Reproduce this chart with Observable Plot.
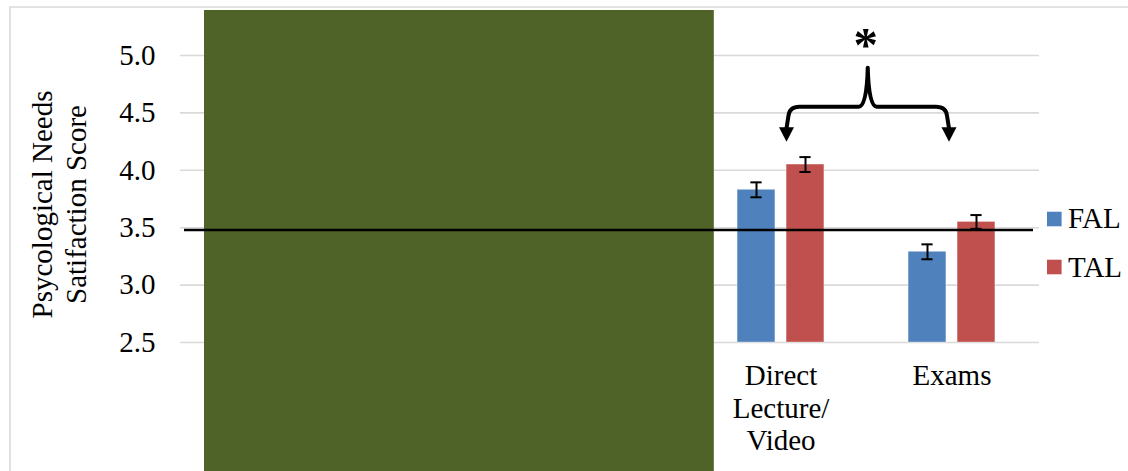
<!DOCTYPE html>
<html>
<head>
<meta charset="utf-8">
<script src="https://cdn.jsdelivr.net/npm/d3@7"></script>
<script src="https://cdn.jsdelivr.net/npm/@observablehq/plot@0.6"></script>
<style>
  body { margin: 0; background: #fff; }
</style>
</head>
<body>
<div id="chart"></div>
<script>
// Category slots along x: the first three lie under the masking panel
const coveredSlots = ["slot-1", "slot-2", "slot-3"];
const categories = ["Direct Lecture/Video", "Exams"];
const categoryLabels = ["Direct\nLecture/\nVideo", "Exams"];
const series = ["FAL", "TAL"];
const seriesColors = ["#4F81BD", "#C0504D"];

// Mean scores and standard errors per category
const falMeans = [3.83, 3.29];
const talMeans = [4.05, 3.55];
const falErrors = [0.065, 0.065];
const talErrors = [0.065, 0.06];

const yTicks = [2.5, 3.0, 3.5, 4.0, 4.5, 5.0];
const yLabelLines = ["Psycological Needs", "Satifaction Score"];
const referenceLevel = 3.475;
const significanceMark = "*";
// Bracket levels (score units) above the two compared groups
const bracketLevels = {peak: 4.89, bar: 4.55, arrowBase: 4.37, arrowTip: 4.245, mark: 5.13};

// Long table built from the arrays above
const rows = categories.flatMap((c, i) => [
  {category: c, series: series[0], mean: falMeans[i], err: falErrors[i]},
  {category: c, series: series[1], mean: talMeans[i], err: talErrors[i]}
]);

const W = 1128, H = 471;
const M = {top: 55, right: 89, bottom: 129, left: 180};
const domainX = [...coveredSlots, ...categories];
const bw = (W - M.left - M.right) / domainX.length;
const barW = 38.6, gap = 10.4, capHalf = 6;
const side = (bw - 2 * barW - gap) / 2;
const off = gap / 2 + barW / 2;           // bar centre offset from band centre
const yMin = yTicks[0];
const FONT = "'Liberation Serif', 'Times New Roman', serif";

const bySeries = s => rows.filter(d => d.series === s);
const capInsets = k => {                   // k = -1 for FAL, +1 for TAL
  const c = bw / 2 + k * off;
  return {insetLeft: c - capHalf, insetRight: bw - c - capHalf};
};

const chart = Plot.plot({
  width: W,
  height: H,
  marginTop: M.top,
  marginRight: M.right,
  marginBottom: M.bottom,
  marginLeft: M.left,
  style: {fontFamily: FONT, fontSize: "29px", color: "#000", background: "#fff"},
  x: {domain: domainX, padding: 0, axis: null},
  y: {domain: [yMin, yTicks[yTicks.length - 1]], axis: null},
  color: {domain: series, range: seriesColors},
  marks: [
    Plot.gridY(yTicks, {stroke: "#D9D9D9", strokeOpacity: 1, strokeWidth: 1.6}),
    Plot.barY(bySeries("FAL"), {x: "category", y1: () => yMin, y2: "mean", fill: "series",
      insetLeft: side, insetRight: side + barW + gap, stroke: "#fff", strokeOpacity: 0.35, strokeWidth: 1}),
    Plot.barY(bySeries("TAL"), {x: "category", y1: () => yMin, y2: "mean", fill: "series",
      insetLeft: side + barW + gap, insetRight: side, stroke: "#fff", strokeOpacity: 0.35, strokeWidth: 1}),
    // error bars
    Plot.ruleX(bySeries("FAL"), {x: "category", y1: d => d.mean - d.err, y2: d => d.mean + d.err, dx: -off, stroke: "#000", strokeWidth: 2}),
    Plot.ruleX(bySeries("TAL"), {x: "category", y1: d => d.mean - d.err, y2: d => d.mean + d.err, dx: off, stroke: "#000", strokeWidth: 2}),
    Plot.tickY(bySeries("FAL"), {x: "category", y: d => d.mean - d.err, ...capInsets(-1), stroke: "#000", strokeWidth: 2}),
    Plot.tickY(bySeries("FAL"), {x: "category", y: d => d.mean + d.err, ...capInsets(-1), stroke: "#000", strokeWidth: 2}),
    Plot.tickY(bySeries("TAL"), {x: "category", y: d => d.mean - d.err, ...capInsets(1), stroke: "#000", strokeWidth: 2}),
    Plot.tickY(bySeries("TAL"), {x: "category", y: d => d.mean + d.err, ...capInsets(1), stroke: "#000", strokeWidth: 2}),
    Plot.axisY({ticks: yTicks, tickSize: 0, tickPadding: 25, tickFormat: d3.format(".1f"), label: null}),
    Plot.axisX({ticks: categories, tickSize: 0, tickPadding: 19, lineHeight: 1.13,
      tickFormat: d => categoryLabels[categories.indexOf(d)], label: null})
  ]
});

const svg = d3.select(chart);
const sx = chart.scale("x"), sy = chart.scale("y"), sc = chart.scale("color");
const centre = c => sx.apply(c) + sx.bandwidth / 2;
const Y = v => sy.apply(v);

// masking panel over the first three slots
const panelX0 = sx.apply(coveredSlots[0]) + 22;
const panelX1 = sx.apply(coveredSlots[2]) + bw + 18;
svg.append("rect")
  .attr("x", panelX0).attr("y", 10)
  .attr("width", panelX1 - panelX0)
  .attr("height", H - 10)
  .attr("fill", "#4F6228");

// reference line across the plot
svg.append("line")
  .attr("x1", M.left + 4).attr("x2", W - M.right - 6)
  .attr("y1", Y(referenceLevel)).attr("y2", Y(referenceLevel))
  .attr("stroke", "#000").attr("stroke-width", 2.6);

// two-line y-axis title, rotated
const yTitle = svg.append("text")
  .attr("transform", `translate(0,${(M.top + H - M.bottom) / 2 + 6})rotate(-90)`)
  .attr("text-anchor", "middle")
  .attr("font-size", 29)
  .attr("fill", "#000");
yLabelLines.forEach((line, i) => {
  yTitle.append("tspan").attr("x", 0).attr("y", 51.5 + i * 34.5).text(line);
});

// significance bracket between the two groups
const xL = centre(categories[0]) + 6;
const xR = centre(categories[1]) - 2.5;
const xm = (xL + xR) / 2;
const yTop = Y(bracketLevels.peak), yBar = Y(bracketLevels.bar);
const yBase = Y(bracketLevels.arrowBase), yTip = Y(bracketLevels.arrowTip);
const brace = d3.path();
brace.moveTo(xL, yBase + 1);
brace.lineTo(xL + 2, yBar + 9);
brace.quadraticCurveTo(xL + 3, yBar, xL + 13, yBar);
brace.lineTo(xm - 9, yBar);
brace.quadraticCurveTo(xm - 1, yBar, xm, yTop);
brace.quadraticCurveTo(xm + 1, yBar, xm + 9, yBar);
brace.lineTo(xR - 13, yBar);
brace.quadraticCurveTo(xR - 3, yBar, xR - 2, yBar + 9);
brace.lineTo(xR, yBase + 1);
svg.append("path").attr("d", brace.toString())
  .attr("fill", "none").attr("stroke", "#000").attr("stroke-width", 4)
  .attr("stroke-linejoin", "round").attr("stroke-linecap", "round");
for (const x of [xL, xR]) {
  svg.append("path")
    .attr("d", `M${x - 7.5},${yBase}L${x + 7.5},${yBase}L${x},${yTip}Z`)
    .attr("fill", "#000");
}
const markSize = 49;
svg.append("text")
  .attr("x", xm - 2).attr("y", Y(bracketLevels.mark) + 0.435 * markSize)
  .attr("text-anchor", "middle")
  .attr("font-size", markSize).attr("font-weight", "bold")
  .attr("fill", "#000")
  .text(significanceMark);

// legend
const legendX = 1047;
const legendRows = [219, 267];
series.forEach((s, i) => {
  svg.append("rect")
    .attr("x", legendX).attr("y", legendRows[i] - 7.3)
    .attr("width", 14.6).attr("height", 14.6)
    .attr("fill", sc.apply(s));
  svg.append("text")
    .attr("x", legendX + 21).attr("y", legendRows[i] + 8.5 + i * 1.5)
    .attr("text-anchor", "start")
    .attr("font-size", 29)
    .attr("fill", "#000")
    .text(s);
});

// chart-area border (top and left edges)
svg.append("path")
  .attr("d", `M10,${H}V7H${W}`)
  .attr("fill", "none").attr("stroke", "#D9D9D9").attr("stroke-width", 1.6);

document.getElementById("chart").append(chart);
</script>
</body>
</html>
